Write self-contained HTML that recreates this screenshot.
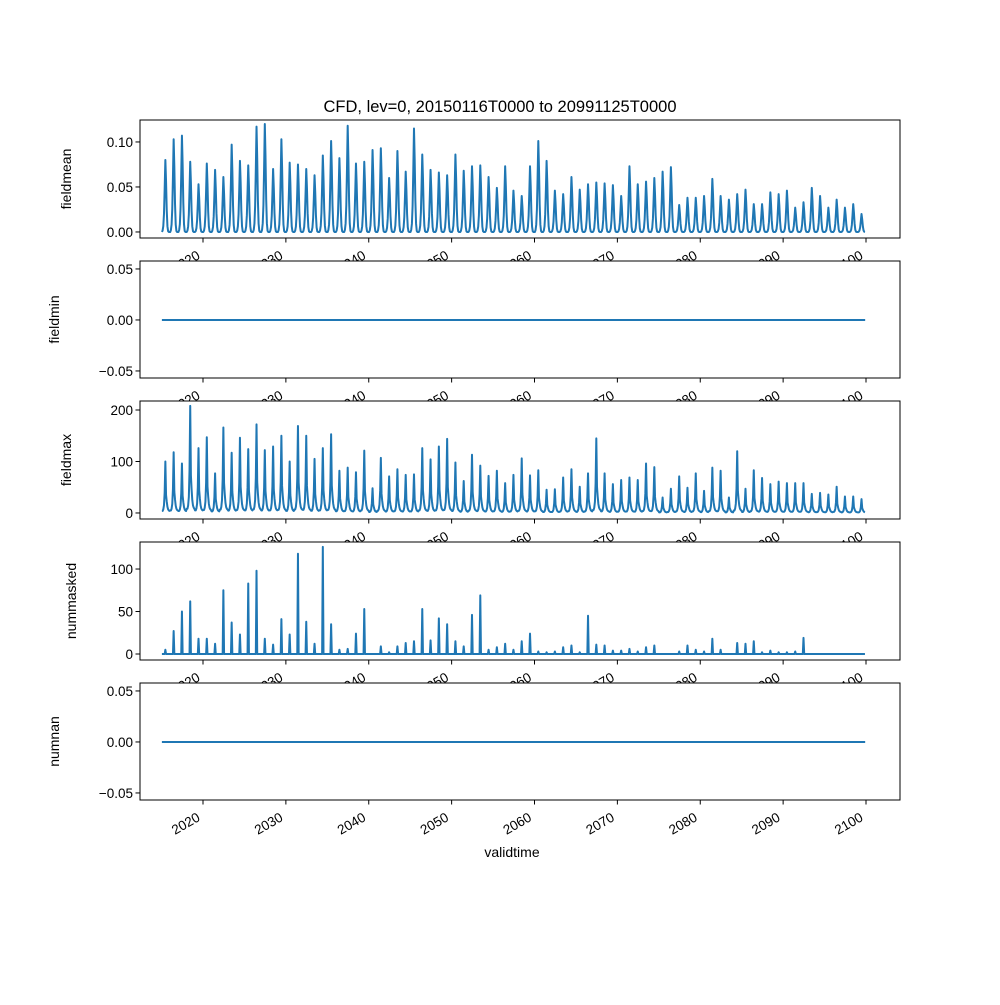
<!DOCTYPE html>
<html><head><meta charset="utf-8"><style>
html,body{margin:0;padding:0;background:#fff;}
svg text{font-family:"Liberation Sans","DejaVu Sans",sans-serif;fill:#000;}
</style></head><body>
<svg id="chart" width="1000" height="1000" xmlns="http://www.w3.org/2000/svg">
<rect x="0" y="0" width="1000" height="1000" fill="#fff"/>
<text x="500" y="112" font-size="16.5" text-anchor="middle">CFD, lev=0, 20150116T0000 to 20991125T0000</text>
<text x="512" y="857" font-size="14" text-anchor="middle">validtime</text>
<g id="panels"></g>
</svg>
<script>
// ---- data ----
const xTicks = [2020,2030,2040,2050,2060,2070,2080,2090,2100];
const startYear = 2015;
const nMonths = 1019;
const meanPeaks = [0.080,0.103,0.107,0.078,0.053,0.076,0.069,0.061,0.097,0.079,0.074,0.117,0.120,0.070,0.103,0.077,0.075,0.070,0.063,0.085,0.101,0.082,0.118,0.076,0.078,0.091,0.093,0.060,0.090,0.067,0.115,0.086,0.069,0.066,0.063,0.086,0.068,0.073,0.074,0.061,0.049,0.073,0.046,
0.040,0.073,0.101,0.079,0.046,0.042,0.061,0.047,0.053,0.055,0.054,0.052,0.040,0.073,0.053,0.056,0.060,0.067,0.072,0.030,0.038,0.038,0.040,0.059,0.040,0.036,0.042,0.047,0.031,0.031,0.044,0.042,0.046,0.027,0.033,0.049,0.040,0.027,0.036,0.027,0.031,0.020];
const meanShape = [0,0.02,0.08,0.25,0.6,1.0,0.7,0.3,0.08,0.01,0,0];
const maxPeaks = [100,118,96,208,126,147,77,166,117,146,124,172,122,129,150,100,169,150,105,126,153,82,88,79,121,48,107,71,85,74,75,126,104,129,144,98,62,113,92,72,82,58,74,
106,73,83,45,46,69,85,51,77,145,77,56,64,69,64,96,89,30,47,71,49,77,43,88,82,30,120,47,83,68,56,61,58,58,58,37,39,36,51,32,32,27];
const maxShape = [0.04,0.04,0.07,0.15,0.4,1.0,0.35,0.22,0.12,0.07,0.05,0.04];
const maskedPeaks = [5,27,50,62,18,18,12,75,37,23,83,98,18,11,41,23,118,38,12,126,35,5,6,24,53,0,9,2,9,13,15,53,16,42,35,15,9,46,69,5,8,12,5,
15,24,3,2,3,8,10,2,45,11,10,4,4,6,3,8,10,0,0,3,10,5,3,18,5,0,13,12,15,2,4,2,2,3,19,0,0,0,0,0,0,0];
const maskedShape = [0,0,0,0,0,1,0,0,0,0,0,0];
const zeroValues = [0,0];
const zeroTimes = [2015.04,2099.9];
const yTicks1 = [0.00,0.05,0.10], yLabels1 = ["0.00","0.05","0.10"];
const yTicksZ = [-0.05,0.00,0.05], yLabelsZ = ["\u22120.05","0.00","0.05"];
const yTicks3 = [0,100,200], yLabels3 = ["0","100","200"];
const yTicks4 = [0,50,100], yLabels4 = ["0","50","100"];

const NS = "http://www.w3.org/2000/svg";
const L = 140, R = 900;
function xs(t){ return 203 + (t-2020)*8.2875; }
function mk(tag, attrs, parent){ const e=document.createElementNS(NS,tag); for(const k in attrs) e.setAttribute(k,attrs[k]); parent.appendChild(e); return e; }

function monthly(peaks, shape){
  const t=[], v=[];
  for(let i=0;i<nMonths;i++){
    const y=Math.floor(i/12), m=i%12;
    t.push(startYear + (m+0.5)/12 + y);
    v.push(peaks[y]*shape[m]);
  }
  return {t,v};
}

const panels = [
  {name:"fieldmean", top:120, bot:238, ymin:-0.0067, ymax:0.1244, ticks:yTicks1, labels:yLabels1, lx:71, series:monthly(meanPeaks,meanShape)},
  {name:"fieldmin", top:261, bot:378, ymin:-0.0569, ymax:0.0578, ticks:yTicksZ, labels:yLabelsZ, lx:59, series:{t:zeroTimes,v:zeroValues}},
  {name:"fieldmax", top:401, bot:519, ymin:-11.7, ymax:217.5, ticks:yTicks3, labels:yLabels3, lx:71, series:monthly(maxPeaks,maxShape)},
  {name:"nummasked", top:542, bot:660, ymin:-7.05, ymax:131.8, ticks:yTicks4, labels:yLabels4, lx:76, series:monthly(maskedPeaks,maskedShape)},
  {name:"numnan", top:683, bot:800, ymin:-0.0569, ymax:0.0578, ticks:yTicksZ, labels:yLabelsZ, lx:59, series:{t:zeroTimes,v:zeroValues}}
];

const root = document.getElementById('panels');
panels.forEach((p)=>{
  const g = mk('g',{},root);
  
  
  const ys = v => p.bot - (v-p.ymin)/(p.ymax-p.ymin)*(p.bot-p.top);
  const bg = mk('rect',{x:L,y:p.top,width:R-L,height:p.bot-p.top,fill:'#fff'},g);
  
  
  let d='';
  for(let i=0;i<p.series.t.length;i++){
    d += (i?'L':'M') + xs(p.series.t[i]).toFixed(2)+','+ys(p.series.v[i]).toFixed(2);
  }
  const line = mk('path',{d:d,fill:'none',stroke:'#1f77b4','stroke-width':2,'stroke-linejoin':'round'},g);
  
  
  const frame = mk('rect',{x:L,y:p.top,width:R-L,height:p.bot-p.top,fill:'none',stroke:'#000','stroke-width':1},g);
  
  
  p.ticks.forEach((tv,i)=>{
    const y = ys(tv);
    mk('line',{x1:L-4.5,x2:L,y1:y,y2:y,stroke:'#000','stroke-width':1},g);
    const tx = mk('text',{x:L-7,y:y+5,'font-size':13.5,'text-anchor':'end'},g);
    tx.textContent = p.labels[i];
    
    
  });
  const yl = mk('text',{x:0,y:0,'font-size':14,'text-anchor':'middle',transform:`translate(${p.lx},${(p.top+p.bot)/2}) rotate(-90)`},g);
  yl.textContent = p.name;
  
  
  xTicks.forEach(tk=>{
    const x = xs(tk);
    mk('line',{x1:x,x2:x,y1:p.bot,y2:p.bot+4.5,stroke:'#000','stroke-width':1},g);
    const tx = mk('text',{x:0,y:0,'font-size':13.5,'text-anchor':'end',transform:`translate(${x-2},${p.bot+20}) rotate(-30)`},g);
    tx.textContent = String(tk);
    
    
  });
});
</script>
</body></html>
